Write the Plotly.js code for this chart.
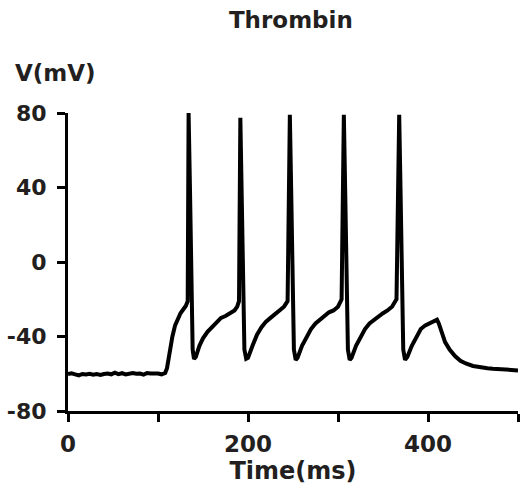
<!DOCTYPE html>
<html>
<head>
<meta charset="utf-8">
<script src="https://cdn.plot.ly/plotly-3.0.1.min.js"></script>
<style>html,body{margin:0;padding:0;background:#fff;}#chart{width:526px;height:488px;}</style>
</head>
<body>
<div id="chart"></div>
<script>
// Time (ms) and membrane potential (mV)
const timeMs = [
  0,4,8,12,16,20,24,28,32,36,40,44,48,52,56,60,64,68,72,76,80,84,88,92,96,100,104,108,
  110,113,116,119,122,125,128,131,133,
  134,135.5,137,138.5,140,142,146,150,155,160,165,170,175,180,185,188,190,
  191.5,193,194.5,196,198,200,205,210,215,220,225,230,235,240,244,
  246.5,248,249.5,251,253,255,260,265,270,275,280,285,290,295,300,304,
  306.5,308,309.5,311,313,315,320,325,330,335,340,345,350,355,360,365,
  368,369.5,371,372.5,374.5,377,382,387,392,397,402,407,410,412,415,419,424,430,436,442,450,458,466,472,478,484,490,496,500
];
const voltageMv = [
  -60.2,-59.8,-60.3,-60.9,-60.1,-60.4,-60.0,-60.5,-60.2,-60.6,-60.1,-59.9,-60.3,-59.4,-60.2,-59.7,-60.4,-59.8,-59.6,-60.0,-59.9,-60.5,-59.6,-59.8,-59.7,-59.9,-60.3,-59.6,
  -57,-48,-40,-34,-30,-27.5,-25.5,-23.5,-21,
  80,40,-25,-47,-52,-51,-45,-41,-37.5,-35,-32,-30,-29,-27.5,-26,-24,-21,
  77.5,38,-25,-47,-52,-51.5,-45,-39,-35,-32,-30,-28,-26,-24,-21,
  79,38,-25,-47,-52.5,-51.5,-45,-40,-36,-33,-31,-29,-27,-26,-24,-20,
  79,38,-25,-47,-52.5,-51.5,-45,-40,-36,-33,-31,-29,-27.5,-26,-24,-20,
  79,38,-25,-47,-52.5,-51,-45,-40,-36,-34,-33,-31.5,-31,-33,-38,-43,-47,-50.5,-53,-54.5,-55.8,-56.6,-57,-57.3,-57.5,-57.6,-57.8,-58,-58.2
];
const xTickVals = [0,100,200,300,400,500];
const xTickText = ['0','','200','','400',''];
const yTickVals = [-80,-40,0,40,80];
const yTickText = ['-80','-40','0','40','80'];
const chartTitle = 'Thrombin';
const xTitle = 'Time(ms)';
const yTitle = 'V(mV)';

const FONT = 'DejaVu Sans, Verdana, sans-serif';
const INK = '#231f20';
const bold = s => s === '' ? '' : '<b>' + s + '</b>';

const trace = {
  x: timeMs, y: voltageMv, type: 'scatter', mode: 'lines',
  line: {color: '#000', width: 4, shape: 'linear'},
  hoverinfo: 'skip'
};

const layout = {
  width: 526, height: 488,
  paper_bgcolor: '#fff', plot_bgcolor: '#fff',
  margin: {l: 68, r: 8, t: 113, b: 77},
  showlegend: false,
  font: {family: FONT, color: INK},
  title: {
    text: bold(chartTitle),
    font: {family: FONT, size: 23, color: INK},
    x: 0.553, xanchor: 'center', xref: 'container',
    y: 1 - 20/488, yanchor: 'middle', yref: 'container'
  },
  xaxis: {
    range: [0, 500], fixedrange: true,
    showgrid: false, zeroline: false,
    showline: true, linecolor: '#000', linewidth: 3,
    ticks: 'outside', ticklen: 8, tickwidth: 3, tickcolor: '#000',
    tickmode: 'array', tickvals: xTickVals, ticktext: xTickText.map(bold),
    tickfont: {family: FONT, size: 23, color: INK},
    ticklabelstandoff: 2,
    automargin: false,
    title: {text: bold(xTitle), font: {family: FONT, size: 24, color: INK}, standoff: 4}
  },
  yaxis: {
    range: [-80, 80], fixedrange: true,
    showgrid: false, zeroline: false,
    showline: true, linecolor: '#000', linewidth: 3,
    ticks: 'outside', ticklen: 8, tickwidth: 3, tickcolor: '#000',
    tickmode: 'array', tickvals: yTickVals, ticktext: yTickText.map(bold),
    tickfont: {family: FONT, size: 22, color: INK},
    ticklabelstandoff: 6,
    automargin: false
  },
  annotations: [{
    text: bold(yTitle),
    xref: 'paper', yref: 'paper',
    x: (13 - 68) / 450, xanchor: 'left',
    y: (411 - 73) / 298, yanchor: 'middle',
    showarrow: false,
    font: {family: FONT, size: 23, color: INK}
  }]
};

Plotly.newPlot('chart', [trace], layout, {displayModeBar: false, staticPlot: true});
</script>
</body>
</html>
